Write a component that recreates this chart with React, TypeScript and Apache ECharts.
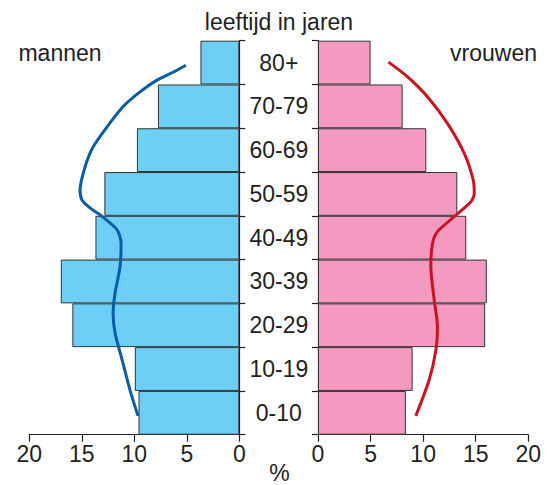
import React, { useEffect, useRef } from "react";
import * as echarts from "echarts";

const ageGroups = ["0-10", "10-19", "20-29", "30-39", "40-49", "50-59", "60-69", "70-79", "80+"];
const men = [9.6, 9.95, 15.9, 17.0, 13.7, 12.85, 9.75, 7.75, 3.7];
const women = [8.35, 9.0, 15.9, 16.05, 14.1, 13.25, 10.3, 8.05, 5.0];
const xTicks = [0, 5, 10, 15, 20];

// curves: [percentage, age position (0 = bottom, 9 = top)]
const menCurve: [number, number][] = [
  [5.08, 8.44], [6.31, 8.28], [7.84, 8.1], [9.46, 7.83], [11.08, 7.49], [12.6, 7.03],
  [13.93, 6.57], [14.7, 6.11], [15.17, 5.59], [14.98, 5.36], [14.22, 5.18], [12.98, 4.97],
  [11.64, 4.68], [11.26, 4.38], [11.36, 3.83], [11.83, 3.24], [12.02, 2.78], [11.83, 2.32],
  [11.16, 1.71], [10.41, 1.02], [9.65, 0.43],
];
const womenCurve: [number, number][] = [
  [6.7, 8.51], [8.5, 8.18], [10.41, 7.72], [12.31, 7.11], [13.9, 6.43], [14.76, 5.82],
  [14.86, 5.51], [14.54, 5.32], [12.95, 4.98], [11.36, 4.64], [10.89, 4.37], [10.73, 3.84],
  [11.05, 3.08], [11.36, 2.47], [11.21, 1.93], [10.57, 1.25], [9.3, 0.43],
];

const TEXT = "#231f20";
const FONT = "Liberation Sans, Arial, sans-serif";

export default function App() {
  const ref = useRef<HTMLDivElement>(null);
  useEffect(() => {
    if (!ref.current) return;
    const chart = echarts.init(ref.current, undefined, { renderer: "svg" });
    const axisLine = { show: true, lineStyle: { color: TEXT, width: 1.2 } };
    const xAxisCommon = {
      type: "value" as const,
      min: xTicks[0],
      max: xTicks[xTicks.length - 1],
      interval: 5,
      axisLine,
      axisTick: { show: true, length: 7, lineStyle: { color: TEXT, width: 1.2 } },
      splitLine: { show: false },
      axisLabel: { fontSize: 23, color: TEXT, fontFamily: FONT, margin: 8 },
    };
    chart.setOption({
      animation: false,
      textStyle: { fontFamily: FONT },
      grid: [
        { left: 29.3, top: 40.7, width: 210, height: 394 },
        { left: 318, top: 40.7, width: 210.3, height: 394 },
      ],
      xAxis: [
        { ...xAxisCommon, gridIndex: 0, inverse: true },
        { ...xAxisCommon, gridIndex: 1 },
      ],
      yAxis: [
        {
          gridIndex: 0,
          type: "category",
          data: ageGroups,
          position: "right",
          axisLine,
          axisTick: { show: true, length: 6, lineStyle: { color: TEXT, width: 1.2 } },
          axisLabel: { align: "center", margin: 39.5, fontSize: 23, color: TEXT, fontFamily: FONT },
        },
        {
          gridIndex: 1,
          type: "category",
          data: ageGroups,
          position: "left",
          axisLine,
          axisTick: { show: true, length: 6, lineStyle: { color: TEXT, width: 1.2 } },
          axisLabel: { show: false },
        },
        { gridIndex: 0, type: "value", min: 0, max: 9, show: false },
        { gridIndex: 1, type: "value", min: 0, max: 9, show: false },
      ],
      series: [
        {
          type: "bar",
          xAxisIndex: 0,
          yAxisIndex: 0,
          data: men,
          barCategoryGap: "0%",
          itemStyle: { color: "#6dcff6", borderColor: "#333", borderWidth: 1 },
        },
        {
          type: "bar",
          xAxisIndex: 1,
          yAxisIndex: 1,
          data: women,
          barCategoryGap: "0%",
          itemStyle: { color: "#f49ac1", borderColor: "#333", borderWidth: 1 },
        },
        {
          type: "line",
          xAxisIndex: 0,
          yAxisIndex: 2,
          data: menCurve,
          showSymbol: false,
          smooth: 0.25,
          z: 5,
          lineStyle: { color: "#0a5ca8", width: 3 },
        },
        {
          type: "line",
          xAxisIndex: 1,
          yAxisIndex: 3,
          data: womenCurve,
          showSymbol: false,
          smooth: 0.25,
          z: 5,
          lineStyle: { color: "#c8141e", width: 3 },
        },
      ],
      graphic: [
        {
          type: "text",
          x: 279,
          y: 21.5,
          style: { text: "leeftijd in jaren", fontSize: 23, fill: TEXT, fontFamily: FONT, align: "center", verticalAlign: "middle" },
        },
        {
          type: "text",
          x: 60,
          y: 53,
          style: { text: "mannen", fontSize: 23, fill: TEXT, fontFamily: FONT, align: "center", verticalAlign: "middle" },
        },
        {
          type: "text",
          x: 493.5,
          y: 53,
          style: { text: "vrouwen", fontSize: 23, fill: TEXT, fontFamily: FONT, align: "center", verticalAlign: "middle" },
        },
        {
          type: "text",
          x: 279.5,
          y: 472.5,
          style: { text: "%", fontSize: 23, fill: TEXT, fontFamily: FONT, align: "center", verticalAlign: "middle" },
        },
      ],
    });
    return () => chart.dispose();
  }, []);
  return (
    <div
      ref={ref}
      style={{ position: "fixed", left: 0, top: 0, width: 548, height: 485, background: "#fff" }}
    />
  );
}
